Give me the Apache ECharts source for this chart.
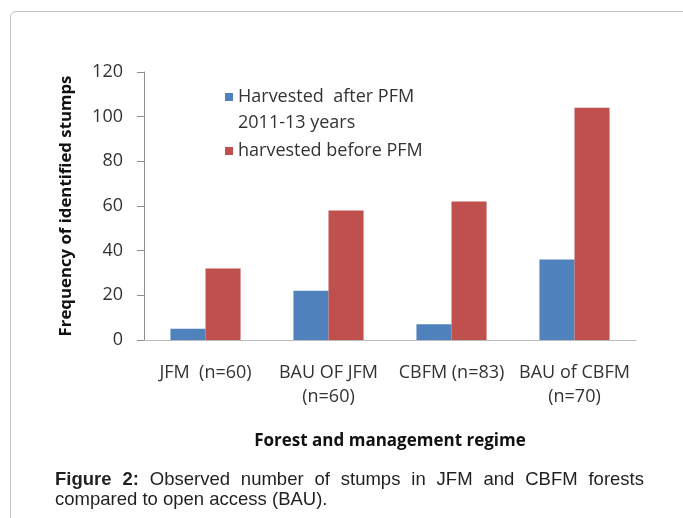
<!DOCTYPE html>
<html><head><meta charset="utf-8">
<script src="https://cdn.jsdelivr.net/npm/echarts@6/dist/echarts.min.js"></script>
<style>
html,body{margin:0;padding:0;background:#fff;}
#wrap{position:relative;width:683px;height:518px;overflow:hidden;background:#fff;}
#frame{position:absolute;left:10px;top:11px;width:740px;height:620px;border:1px solid #c4c4c4;border-radius:6px;}
#chart{position:absolute;left:0;top:0;width:683px;height:518px;}
#cap{position:absolute;left:55px;top:469px;width:589px;font-family:"Liberation Sans",Arial,sans-serif;font-size:18.5px;line-height:20px;color:#231f20;}
.l1{text-align:justify;text-align-last:justify;white-space:nowrap;}
</style></head>
<body><div id="wrap"><div id="frame"></div><div id="chart"></div>
<div id="cap"><div class="l1"><b>Figure 2:</b> Observed number of stumps in JFM and CBFM forests</div><div>compared to open access (BAU).</div></div></div>
<script>
const categories = ['JFM  (n=60)', 'BAU OF JFM\n(n=60)', 'CBFM (n=83)', 'BAU of CBFM\n(n=70)'];
const seriesNames = ['Harvested  after PFM\n2011-13 years', 'harvested before PFM'];
const afterPFM = [5, 22, 7, 36];
const beforePFM = [32, 58, 62, 104];
const yMin = 0, yMax = 120, yInterval = 20;
const xAxisTitle = 'Forest and management regime';
const yAxisTitle = 'Frequency of identified stumps';
const colors = ['#4F81BD', '#C0504D'];

const chart = echarts.init(document.getElementById('chart'), null, {renderer: 'canvas'});
const font = '"Open Sans", "Noto Sans", sans-serif';
chart.setOption({
  animation: false,
  backgroundColor: 'transparent',
  color: colors,
  grid: {left: 144, right: 47, top: 72, bottom: 178, containLabel: false},
  legend: {
    orient: 'vertical', left: 225, top: 58, padding: 0,
    itemWidth: 8, itemHeight: 8, itemGap: 2, icon: 'rect',
    textStyle: {fontFamily: font, fontSize: 18, color: '#333', lineHeight: 26},
    formatter: function (name) { return name.indexOf('\n') >= 0 ? '\n' + name : name; },
    data: [seriesNames[0], seriesNames[1]]
  },
  xAxis: {
    type: 'category', data: categories,
    axisLine: {lineStyle: {color: '#bdbdbd', width: 1}},
    axisTick: {show: false},
    axisLabel: {interval: 0, margin: 21, fontFamily: font, fontSize: 18, color: '#333', lineHeight: 24},
    name: xAxisTitle, nameLocation: 'middle', nameGap: 91,
    nameTextStyle: {fontFamily: font, fontSize: 17, fontWeight: 'bold', color: '#111', lineHeight: 20}
  },
  yAxis: {
    type: 'value', min: yMin, max: yMax, interval: yInterval,
    axisLine: {show: true, lineStyle: {color: '#8c8c8c', width: 1}},
    axisTick: {show: true, length: 7, lineStyle: {color: '#8c8c8c'}},
    splitLine: {show: false},
    axisLabel: {margin: 21, fontFamily: font, fontSize: 18, color: '#333'},
    name: yAxisTitle, nameLocation: 'middle', nameGap: 68,
    nameTextStyle: {fontFamily: font, fontSize: 16.8, fontWeight: 'bold', color: '#111', lineHeight: 20}
  },
  series: [
    {name: seriesNames[0], type: 'bar', data: afterPFM, barGap: '0%', barCategoryGap: '43%', itemStyle: {color: colors[0]}},
    {name: seriesNames[1], type: 'bar', data: beforePFM, barGap: '0%', barCategoryGap: '43%', itemStyle: {color: colors[1]}}
  ]
});
</script></body></html>
